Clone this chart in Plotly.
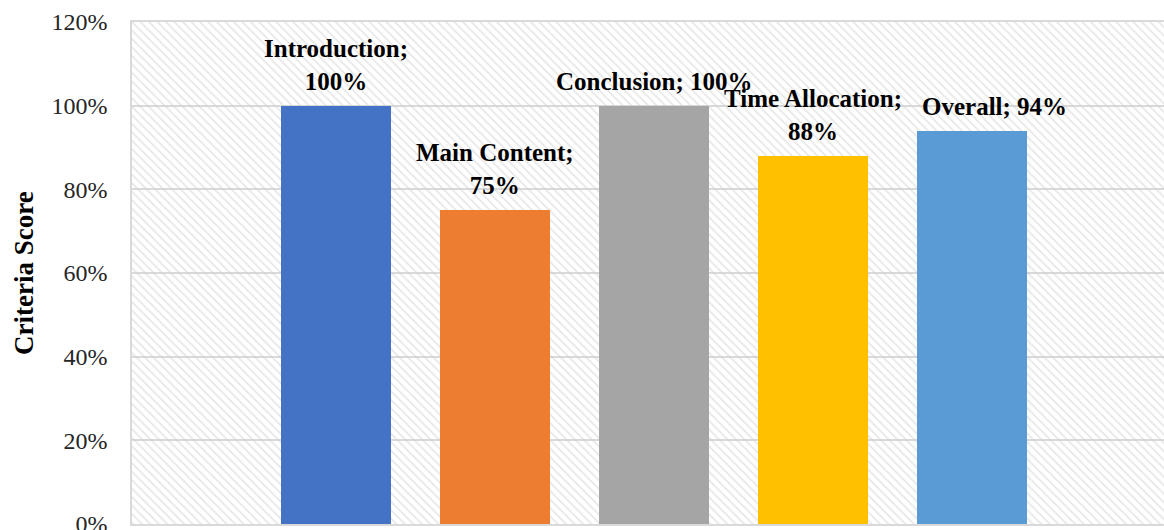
import plotly.graph_objects as go

categories = ["Introduction", "Main Content", "Conclusion", "Time Allocation", "Overall"]
values = [1.00, 0.75, 1.00, 0.88, 0.94]
label_texts = ["Introduction;<br>100%", "Main Content;<br>75%", "Conclusion; 100%",
               "Time Allocation;<br>88%", "Overall; 94%"]
colors = ["#4472C4", "#ED7D31", "#A5A5A5", "#FFC000", "#5B9BD5"]
y_ticks = [0, 0.2, 0.4, 0.6, 0.8, 1.0, 1.2]

W, H = 1164, 530
left, top, bottom_px = 132, 22, 524
px_per_cat = 159.0
x0_px = 336.0
xr0 = -(x0_px - left) / px_per_cat
xr1 = xr0 + (W - left) / px_per_cat

xs = list(range(len(categories)))

fig = go.Figure()
# hatched plot background
fig.add_trace(go.Bar(
    x=[(xr0 + xr1) / 2], y=[1.2], width=[xr1 - xr0 + 0.2],
    marker=dict(color="rgba(255,255,255,0)", line=dict(width=0),
                pattern=dict(shape="\\", fgcolor="#cfcfcf", bgcolor="rgba(255,255,255,0)",
                             size=6, solidity=0.3)),
    hoverinfo="skip", showlegend=False))
fig.add_trace(go.Bar(
    x=xs, y=values, width=0.69,
    marker=dict(color=colors, line=dict(width=0)),
    showlegend=False, hovertext=categories))

xshifts = [0, 0, 0, 0, 22]
for i, (v, t) in enumerate(zip(values, label_texts)):
    fig.add_annotation(x=xs[i], y=v, text="<b>" + t.replace("<br>", "</b><br><b>") + "</b>",
                       showarrow=False, yanchor="bottom",
                       yshift=9, xshift=xshifts[i],
                       font=dict(family="Liberation Serif", size=25, color="#000000"),
                       align="center")

fig.add_annotation(xref="paper", yref="paper", x=(24 - left) / (W - left), y=0.5,
                   xanchor="center", yanchor="middle",
                   text="<b>Criteria Score</b>", textangle=-90, showarrow=False,
                   font=dict(family="Liberation Serif", size=27, color="#000000"))

fig.update_layout(
    width=W, height=H,
    margin=dict(l=left, r=0, t=top, b=H - bottom_px, pad=0, autoexpand=False),
    paper_bgcolor="white", plot_bgcolor="white",
    barmode="overlay", bargap=0,
    xaxis=dict(range=[xr0, xr1], showticklabels=False, showgrid=False, zeroline=False,
               showline=True, linecolor="#d9d9d9", linewidth=1.5, mirror=True, ticks="",
               automargin=False),
    yaxis=dict(range=[0, 1.2], tickvals=y_ticks, tickformat=".0%", showgrid=True,
               gridcolor="#d9d9d9", gridwidth=1.5, zeroline=False,
               showline=True, linecolor="#d9d9d9", linewidth=1.5,
               ticklabelstandoff=18, ticklabeloverflow="allow", automargin=False,
               tickfont=dict(family="Liberation Serif", size=24, color="#262626")),
)

fig.write_html("out.html")
